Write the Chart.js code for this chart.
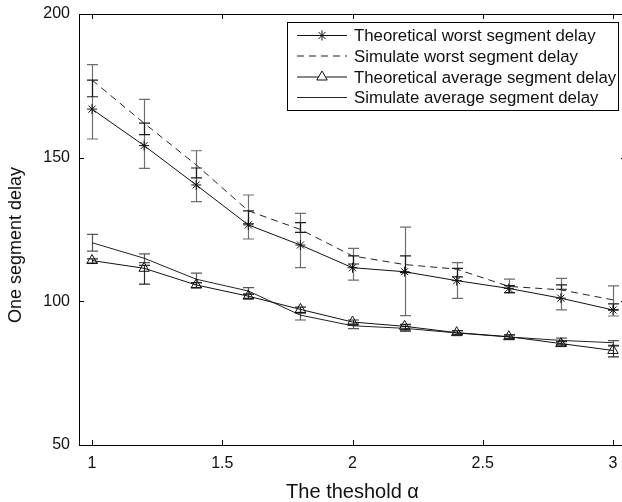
<!DOCTYPE html>
<html>
<head>
<meta charset="utf-8">
<script src="https://cdn.jsdelivr.net/npm/chart.js@4/dist/chart.umd.min.js"></script>
<style>
  html, body { margin: 0; padding: 0; background: #fff; overflow: hidden; }
  #wrap { width: 633px; height: 502px; }
</style>
</head>
<body>
<div id="wrap"><canvas id="delayChart"></canvas></div>
<script>
// threshold values on the x axis
var alphaValues = [1, 1.2, 1.4, 1.6, 1.8, 2, 2.2, 2.4, 2.6, 2.8, 3];

var theoWorst = [166.9, 154.2, 140.5, 126.6, 119.6, 111.7, 110.3, 107.2, 104.5, 101.1, 97.0];
var simWorst = [177.0, 162.0, 147.5, 131.5, 125.0, 115.8, 112.8, 111.2, 105.2, 104.0, 100.5];
var theoAvg = [114.2, 111.5, 105.7, 101.8, 97.2, 92.8, 91.3, 89.1, 87.7, 85.3, 82.9];
var simAvg = [120.4, 115.0, 107.7, 103.6, 95.2, 91.5, 90.6, 89.0, 87.6, 86.4, 85.6];

// error bars (low / high)
var theoWorstLow = [156.5, 146.3, 134.7, 121.7, 111.7, 107.4, 95.0, 101.0, 103.0, 97.0, 94.9];
var theoWorstHigh = [182.4, 170.3, 152.4, 137.0, 130.6, 118.4, 125.8, 113.5, 107.7, 108.0, 105.4];
var simWorstLow = [171.2, 158.0, 143.0, 127.0, 124.0, 113.0, 110.0, 108.5, 103.0, 104.2, 97.0];
var simWorstHigh = [177.0, 162.0, 146.4, 131.5, 127.4, 115.8, 115.8, 111.5, 105.5, 105.7, 99.1];
var simAvgLow = [117.5, 113.5, 106.5, 102.5, 93.5, 90.5, 89.5, 88.3, 86.8, 85.0, 84.7];
var simAvgHigh = [123.3, 116.5, 109.8, 104.8, 96.0, 92.2, 91.3, 89.8, 88.3, 87.2, 86.3];
var theoAvgLow = [113.3, 106.0, 104.8, 101.0, 96.0, 91.8, 90.0, 88.5, 87.0, 84.5, 80.7];
var theoAvgHigh = [114.8, 112.5, 106.5, 102.5, 98.0, 93.5, 92.0, 89.8, 88.3, 86.0, 84.5];

var xTicks = [1, 1.5, 2, 2.5, 3];
var yTicks = [50, 100, 150, 200];

var legendLabels = [
  "Theoretical worst segment delay",
  "Simulate worst segment delay",
  "Theoretical average segment delay",
  "Simulate average segment delay"
];

var FONT = '"Liberation Sans", Arial, Helvetica, sans-serif';

function pts(ys) {
  return ys.map(function (y, i) { return { x: alphaValues[i], y: y }; });
}

var errorSets = [
  { low: theoWorstLow, high: theoWorstHigh, color: "#6f6f6f" },
  { low: simWorstLow, high: simWorstHigh, color: "#1a1a1a" },
  { low: simAvgLow, high: simAvgHigh, color: "#555555" },
  { low: theoAvgLow, high: theoAvgHigh, color: "#2a2a2a" }
];

var matlabLook = {
  id: "matlabLook",
  beforeDatasetsDraw: function (chart) {
    var c = chart.ctx, xs = chart.scales.x, ys = chart.scales.y;
    c.save();
    c.lineWidth = 1.2;
    errorSets.forEach(function (set) {
      c.strokeStyle = set.color;
      alphaValues.forEach(function (a, i) {
        var px = Math.round(xs.getPixelForValue(a)) + 0.5;
        var y1 = ys.getPixelForValue(set.low[i]);
        var y2 = ys.getPixelForValue(set.high[i]);
        c.beginPath();
        c.moveTo(px, y1); c.lineTo(px, y2);
        c.moveTo(px - 5.5, y1); c.lineTo(px + 5.5, y1);
        c.moveTo(px - 5.5, y2); c.lineTo(px + 5.5, y2);
        c.stroke();
      });
    });
    c.restore();
  },
  afterDraw: function (chart) {
    var c = chart.ctx, a = chart.chartArea, xs = chart.scales.x, ys = chart.scales.y;
    c.save();
    // box + inward ticks
    c.strokeStyle = "#000";
    c.lineWidth = 1;
    c.beginPath();
    c.moveTo(a.left, a.top + 0.5); c.lineTo(a.right, a.top + 0.5);
    c.moveTo(a.right - 0.5, a.top); c.lineTo(a.right - 0.5, a.bottom);
    xTicks.forEach(function (t) {
      var px = Math.round(xs.getPixelForValue(t)) + 0.5;
      c.moveTo(px, a.bottom); c.lineTo(px, a.bottom - 5);
      c.moveTo(px, a.top); c.lineTo(px, a.top + 5);
    });
    yTicks.forEach(function (t) {
      var py = Math.round(ys.getPixelForValue(t)) + 0.5;
      c.moveTo(a.left, py); c.lineTo(a.left + 5, py);
      c.moveTo(a.right, py); c.lineTo(a.right - 5, py);
    });
    c.stroke();

    // legend box
    var bx = 287, by = 22, bw = 331, bh = 88;
    c.fillStyle = "#fff";
    c.fillRect(bx, by, bw, bh);
    c.strokeRect(bx + 0.5, by + 0.5, bw, bh);
    var rowY = [35.5, 56, 77, 97.5];
    c.font = "16.8px " + FONT;
    c.textBaseline = "middle";
    chart.data.datasets.forEach(function (ds, i) {
      var y = rowY[i];
      c.strokeStyle = ds.borderColor;
      c.lineWidth = 1;
      c.setLineDash(ds.borderDash || []);
      c.beginPath();
      c.moveTo(297, y); c.lineTo(347, y);
      c.stroke();
      c.setLineDash([]);
      if (ds.pointStyle && ds.pointRadius > 0) {
        c.fillStyle = "#fff";
        Chart.helpers.drawPoint(c, {
          pointStyle: ds.pointStyle,
          radius: ds.pointRadius,
          borderWidth: 1
        }, 322, y);
      }
      c.fillStyle = "#111";
      c.fillText(legendLabels[i], 354, y + 1);
    });

    // axis titles
    c.fillStyle = "#111";
    c.font = "20px " + FONT;
    c.textAlign = "center";
    c.textBaseline = "alphabetic";
    c.fillText("The theshold \u03b1", (a.left + a.right) / 2, 498);
    c.font = "18px " + FONT;
    c.translate(21, 245);
    c.rotate(-Math.PI / 2);
    c.fillText("One segment delay", 0, 0);
    c.restore();
  }
};

new Chart(document.getElementById("delayChart"), {
  type: "line",
  data: {
    datasets: [
      {
        label: legendLabels[0],
        data: pts(theoWorst),
        borderColor: "#111",
        borderWidth: 1,
        pointStyle: "star",
        pointRadius: 5,
        pointBorderColor: "#111",
        pointBackgroundColor: "#fff",
        pointBorderWidth: 1
      },
      {
        label: legendLabels[1],
        data: pts(simWorst),
        borderColor: "#222",
        borderWidth: 1,
        borderDash: [7, 5],
        pointRadius: 0
      },
      {
        label: legendLabels[2],
        data: pts(theoAvg),
        borderColor: "#111",
        borderWidth: 1,
        pointStyle: "triangle",
        pointRadius: 6,
        pointBorderColor: "#111",
        pointBackgroundColor: "rgba(0,0,0,0)",
        pointBorderWidth: 1
      },
      {
        label: legendLabels[3],
        data: pts(simAvg),
        borderColor: "#222",
        borderWidth: 1,
        pointRadius: 0
      }
    ]
  },
  options: {
    responsive: true,
    maintainAspectRatio: false,
    animation: false,
    layout: { padding: { top: 14, right: 2, left: 0, bottom: 0 } },
    plugins: { legend: { display: false }, tooltip: { enabled: false } },
    scales: {
      x: {
        type: "linear",
        min: 0.95,
        max: 3.05,
        afterBuildTicks: function (s) { s.ticks = xTicks.map(function (v) { return { value: v }; }); },
        afterFit: function (s) { s.height = 57; },
        grid: { display: false, drawTicks: false },
        border: { display: true, color: "#000", width: 1 },
        ticks: {
          padding: 9,
          color: "#111",
          font: { family: FONT, size: 16 },
          maxRotation: 0,
          callback: function (v) { return String(v); }
        }
      },
      y: {
        type: "linear",
        min: 50,
        max: 200,
        afterBuildTicks: function (s) { s.ticks = yTicks.map(function (v) { return { value: v }; }); },
        afterFit: function (s) { s.width = 79; s.paddingTop = 0; s.paddingBottom = 0; },
        grid: { display: false, drawTicks: false },
        border: { display: true, color: "#000", width: 1 },
        ticks: {
          padding: 9,
          color: "#111",
          font: { family: FONT, size: 16 }
        }
      }
    }
  },
  plugins: [matlabLook]
});
</script>
</body>
</html>
